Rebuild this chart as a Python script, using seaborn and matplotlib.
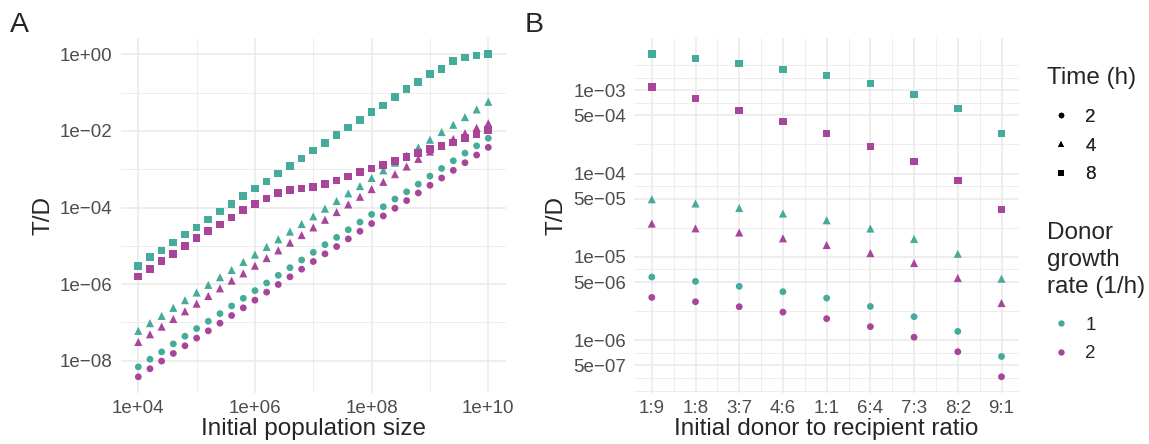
import numpy as np
import pandas as pd
import matplotlib
matplotlib.use("Agg")
import matplotlib.pyplot as plt
import seaborn as sns
from matplotlib.lines import Line2D
from matplotlib.ticker import FixedLocator, NullFormatter

# ---------------- data ----------------
# Panel A: log10 of initial population size
pop_log10 = [4.0, 4.2, 4.4, 4.6, 4.8, 5.0, 5.2, 5.4, 5.6, 5.8, 6.0, 6.2, 6.4, 6.6, 6.8,
             7.0, 7.2, 7.4, 7.6, 7.8, 8.0, 8.2, 8.4, 8.6, 8.8, 9.0, 9.2, 9.4, 9.6, 9.8, 10.0]
# log10(T/D); key = (growth rate, time)
a_r1_t2 = [-8.16, -7.96, -7.77, -7.56, -7.36, -7.16, -6.97, -6.77, -6.57, -6.37, -6.17, -5.97,
           -5.77, -5.57, -5.37, -5.17, -4.97, -4.78, -4.58, -4.38, -4.18, -3.98, -3.78, -3.59,
           -3.39, -3.18, -2.98, -2.78, -2.58, -2.39, -2.19]
a_r2_t2 = [-8.42, -8.21, -8.01, -7.81, -7.61, -7.41, -7.22, -7.02, -6.82, -6.62, -6.42, -6.21,
           -6.01, -5.81, -5.61, -5.41, -5.21, -5.02, -4.82, -4.62, -4.42, -4.22, -4.02, -3.82,
           -3.62, -3.42, -3.23, -3.03, -2.83, -2.63, -2.43]
a_r1_t4 = [-7.22, -7.02, -6.83, -6.62, -6.42, -6.22, -6.02, -5.82, -5.63, -5.42, -5.23, -5.03,
           -4.83, -4.63, -4.43, -4.23, -4.03, -3.83, -3.63, -3.44, -3.23, -3.03, -2.83, -2.64,
           -2.43, -2.23, -2.03, -1.84, -1.64, -1.44, -1.24]
a_r2_t4 = [-7.51, -7.31, -7.11, -6.91, -6.71, -6.51, -6.31, -6.11, -5.91, -5.72, -5.52, -5.32,
           -5.12, -4.92, -4.72, -4.52, -4.32, -4.12, -3.92, -3.72, -3.52, -3.33, -3.13, -2.93,
           -2.73, -2.54, -2.39, -2.21, -2.06, -1.92, -1.80]
a_r1_t8 = [-5.52, -5.30, -5.12, -4.91, -4.70, -4.52, -4.31, -4.10, -3.91, -3.70, -3.50, -3.32,
           -3.11, -2.92, -2.72, -2.51, -2.32, -2.11, -1.91, -1.72, -1.51, -1.34, -1.12, -0.91,
           -0.73, -0.52, -0.38, -0.18, -0.08, -0.03, 0.0]
a_r2_t8 = [-5.80, -5.61, -5.40, -5.22, -5.01, -4.80, -4.62, -4.44, -4.26, -4.07, -3.91, -3.76,
           -3.62, -3.55, -3.50, -3.46, -3.39, -3.29, -3.19, -3.08, -2.98, -2.89, -2.79, -2.68,
           -2.58, -2.48, -2.39, -2.30, -2.19, -2.08, -1.98]

# Panel B
ratios = ["1:9", "1:8", "3:7", "4:6", "1:1", "6:4", "7:3", "8:2", "9:1"]
b_r1_t8 = [2.69e-3, 2.40e-3, 2.09e-3, 1.77e-3, 1.50e-3, 1.20e-3, 8.87e-4, 6.03e-4, 3.02e-4]
b_r2_t8 = [1.08e-3, 7.94e-4, 5.70e-4, 4.21e-4, 3.02e-4, 2.11e-4, 1.39e-4, 8.24e-5, 3.70e-5]
b_r1_t4 = [4.91e-5, 4.37e-5, 3.86e-5, 3.31e-5, 2.75e-5, 2.19e-5, 1.64e-5, 1.09e-5, 5.48e-6]
b_r2_t4 = [2.51e-5, 2.20e-5, 1.96e-5, 1.67e-5, 1.39e-5, 1.11e-5, 8.45e-6, 5.58e-6, 2.80e-6]
b_r1_t2 = [5.74e-6, 5.09e-6, 4.44e-6, 3.83e-6, 3.21e-6, 2.55e-6, 1.92e-6, 1.28e-6, 6.41e-7]
b_r2_t2 = [3.27e-6, 2.90e-6, 2.53e-6, 2.18e-6, 1.82e-6, 1.46e-6, 1.09e-6, 7.30e-7, 3.66e-7]

times = [2, 4, 8]
rates = [1, 2]

# tick labels
a_xticks = [1e4, 1e6, 1e8, 1e10]
a_xlabels = ["1e+04", "1e+06", "1e+08", "1e+10"]
a_yticks = [1e0, 1e-2, 1e-4, 1e-6, 1e-8]
a_ylabels = ["1e+00", "1e\u221202", "1e\u221204", "1e\u221206", "1e\u221208"]
b_yticks = [1e-3, 5e-4, 1e-4, 5e-5, 1e-5, 5e-6, 1e-6, 5e-7]
b_ylabels = ["1e\u221203", "5e\u221204", "1e\u221204", "5e\u221205", "1e\u221205",
             "5e\u221206", "1e\u221206", "5e\u221207"]

# ---------------- frames ----------------
a_series = {(1, 2): a_r1_t2, (2, 2): a_r2_t2, (1, 4): a_r1_t4, (2, 4): a_r2_t4,
            (1, 8): a_r1_t8, (2, 8): a_r2_t8}
b_series = {(1, 2): b_r1_t2, (2, 2): b_r2_t2, (1, 4): b_r1_t4, (2, 4): b_r2_t4,
            (1, 8): b_r1_t8, (2, 8): b_r2_t8}

rows_a = []
for r in rates:
    for t in times:
        for px, v in zip(pop_log10, a_series[(r, t)]):
            rows_a.append({"pop": 10 ** px, "td": 10 ** v, "rate": r, "time": t})
df_a = pd.DataFrame(rows_a)

rows_b = []
for r in rates:
    for t in times:
        for i, v in enumerate(b_series[(r, t)]):
            rows_b.append({"ratio_idx": i, "td": v, "rate": r, "time": t})
df_b = pd.DataFrame(rows_b)

# ---------------- style ----------------
sns.set_theme(style="white")
plt.rcParams["font.family"] = ["Liberation Sans", "DejaVu Sans"]

teal = "#45AB9A"
magenta = "#A8449A"
palette = {1: teal, 2: magenta}
markers = {2: "o", 4: "^", 8: "s"}
sizes = {2: 24, 4: 34, 8: 30}
grid_c = "#EBEBEB"
tick_c = "#4D4D4D"

W, H = 1149, 444
fig = plt.figure(figsize=(W / 100, H / 100), dpi=100)
axA = fig.add_axes([120.8 / W, 1 - 392.9 / H, (505.8 - 120.8) / W, (392.9 - 38.2) / H])
axB = fig.add_axes([634.3 / W, 1 - 392.9 / H, (1019 - 634.3) / W, (392.9 - 38.2) / H])

for ax, df, xcol in [(axA, df_a, "pop"), (axB, df_b, "ratio_idx")]:
    sns.scatterplot(data=df, x=xcol, y="td", hue="rate", style="time", size="time",
                    palette=palette, markers=markers, sizes=sizes, linewidth=0,
                    legend=False, ax=ax, zorder=3)

def style_axis(ax):
    for s in ax.spines.values():
        s.set_visible(False)
    ax.tick_params(which="both", length=0, labelsize=13.5, labelcolor=tick_c)
    ax.tick_params(axis="y", pad=6)
    ax.tick_params(axis="x", pad=5)
    ax.grid(which="major", color=grid_c, lw=1.2)
    ax.grid(which="minor", color=grid_c, lw=0.6)
    ax.set_axisbelow(True)

# Panel A
axA.set_xscale("log")
axA.set_yscale("log")
axA.set_xlim(10 ** 3.7, 10 ** 10.3)
axA.set_ylim(10 ** -8.84, 10 ** 0.42)
axA.xaxis.set_major_locator(FixedLocator(a_xticks))
axA.set_xticklabels(a_xlabels)
axA.yaxis.set_major_locator(FixedLocator(a_yticks))
axA.set_yticklabels(a_ylabels)
axA.xaxis.set_minor_locator(FixedLocator([1e5, 1e7, 1e9]))
axA.yaxis.set_minor_locator(FixedLocator([1e-1, 1e-3, 1e-5, 1e-7]))
axA.xaxis.set_minor_formatter(NullFormatter())
axA.yaxis.set_minor_formatter(NullFormatter())
style_axis(axA)
axA.set_xlabel("Initial population size", fontsize=17.5, labelpad=1)
axA.set_ylabel("T/D", fontsize=17.5, labelpad=4)

# Panel B
axB.set_yscale("log")
axB.set_xlim(-0.4, len(ratios) - 1 + 0.4)
axB.set_ylim(10 ** -6.63, 10 ** -2.378)
axB.xaxis.set_major_locator(FixedLocator(list(range(len(ratios)))))
axB.set_xticklabels(ratios)
axB.xaxis.set_minor_locator(FixedLocator([i + 0.5 for i in range(len(ratios) - 1)]))
axB.yaxis.set_major_locator(FixedLocator(b_yticks))
axB.set_yticklabels(b_ylabels)
b_minor = [10 ** e for e in [-2.699, -2.85, -3.15, -3.65, -4.15, -4.65, -5.15, -5.65,
                             -6.15, -6.45, -6.602]]
axB.yaxis.set_minor_locator(FixedLocator(b_minor))
axB.xaxis.set_minor_formatter(NullFormatter())
axB.yaxis.set_minor_formatter(NullFormatter())
style_axis(axB)
axB.set_xlabel("Initial donor to recipient ratio", fontsize=17.5, labelpad=1)
axB.set_ylabel("T/D", fontsize=17.5, labelpad=4)

# tags
fig.text(10 / W, 1 - 25 / H, "A", fontsize=20.5, va="center", ha="left")
fig.text(525 / W, 1 - 25 / H, "B", fontsize=20.5, va="center", ha="left")

# legends
leg_x = 1044 / W
fig.text(1047 / W, 1 - 78 / H, "Time (h)", fontsize=17.5, va="center", ha="left")
time_handles = [Line2D([], [], ls="none", marker=markers[t], color="black",
                       markersize={2: 4.0, 4: 4.8, 8: 4.6}[t], markeredgewidth=0) for t in times]
leg1 = fig.legend(time_handles, [str(t) for t in times],
                  loc="center left", bbox_to_anchor=(leg_x, 1 - 146 / H),
                  frameon=False, fontsize=13.5,
                  handlelength=1.0, handletextpad=0.8, labelspacing=0.62,
                  borderaxespad=0)
fig.text(1047 / W, 1 - 260 / H, "Donor\ngrowth\nrate (1/h)", fontsize=17.5,
         va="center", ha="left", linespacing=1.32)
rate_handles = [Line2D([], [], ls="none", marker="o", color=palette[r],
                       markersize=4.6, markeredgewidth=0) for r in rates]
leg2 = fig.legend(rate_handles, [str(r) for r in rates],
                  loc="center left", bbox_to_anchor=(leg_x, 1 - 339.5 / H),
                  frameon=False, fontsize=13.5,
                  handlelength=1.0, handletextpad=0.8, labelspacing=0.62,
                  borderaxespad=0)
fig.add_artist(leg1)

fig.savefig("out.png", dpi=100)
